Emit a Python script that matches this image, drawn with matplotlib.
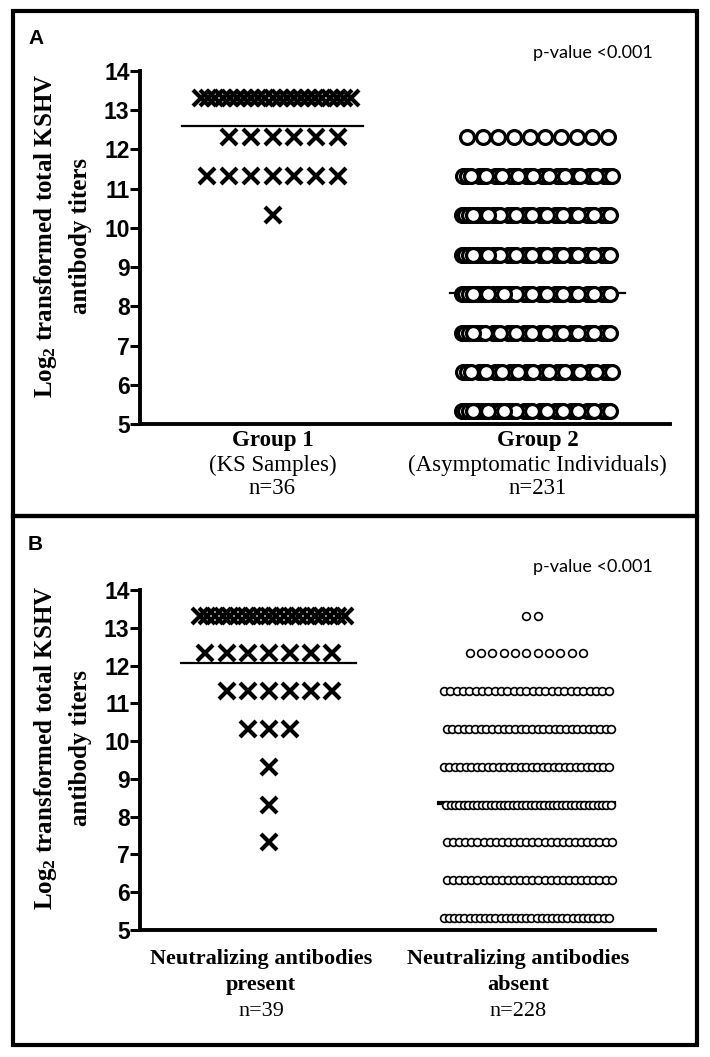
import numpy as np
import matplotlib
matplotlib.use("Agg")
import matplotlib.pyplot as plt
from matplotlib.patches import Rectangle

# ---------------- data ----------------
titer_levels = [13.32, 12.32, 11.32, 10.32, 9.32, 8.32, 7.32, 6.32, 5.32]
a_group1_counts = [22, 6, 7, 1, 0, 0, 0, 0, 0]        # n=36
a_group2_counts = [0, 10, 30, 32, 32, 33, 31, 30, 33]  # n=231
b_present_counts = [20, 7, 6, 3, 1, 1, 1, 0, 0]        # n=39
b_absent_counts = [2, 11, 27, 30, 31, 38, 28, 28, 33]  # n=228
a_means = [12.6, 8.35]
b_means = [12.07, 8.35]
a_cat_lines = [["Group 1", "(KS Samples)", "n=36"],
               ["Group 2", "(Asymptomatic Individuals)", "n=231"]]
b_cat_lines = [["Neutralizing antibodies", "present", "n=39"],
               ["Neutralizing antibodies", "absent", "n=228"]]
y_ticks = [5, 6, 7, 8, 9, 10, 11, 12, 13, 14]
p_text = "p-value <0.001"

plt.rcParams["mathtext.fontset"] = "custom"
plt.rcParams["mathtext.rm"] = "Liberation Serif:bold"
plt.rcParams["mathtext.bf"] = "Liberation Serif:bold"
plt.rcParams["mathtext.it"] = "Liberation Serif:bold"

W, H = 710, 1057
fig = plt.figure(figsize=(W / 100, H / 100), dpi=100)


def fx(px):
    return px / W


def fy(py):
    return 1 - py / H


def prism_offsets(n, step, width):
    if n == 0:
        return np.array([])
    if n > 1 and step * (n - 1) > width:
        step = width / (n - 1)
    k = np.arange(n) - (n - 1) // 2
    return k * step


def layered_offsets(n, step, cols, shift):
    if n == 0:
        return np.array([])
    ncols = min(n, cols)
    layers = int(np.ceil(n / ncols))
    idx = np.arange(n)
    j = idx % ncols
    l = idx // ncols
    return (j - (ncols - 1) / 2) * step + (l - (layers - 1) / 2) * shift


def draw_group(ax, cat, counts, kind):
    for lev, n in zip(titer_levels, counts):
        if n == 0:
            continue
        if kind == "cross":
            xs = cat + prism_offsets(n, 0.082, 0.565)
            ax.plot(xs, [lev] * n, ls="none", marker="x", ms=11, mew=3.0,
                    color="black", clip_on=False, zorder=3)
        elif kind == "bigcircle":
            xs = cat + layered_offsets(n, 0.059, 10, 0.014)
            ax.plot(xs, [lev] * n, ls="none", marker="o", ms=10, mew=2.3,
                    mfc="white", mec="black", clip_on=False, zorder=3)
        else:
            xs = cat + prism_offsets(n, 0.044, 0.64)
            ax.plot(xs, [lev] * n, ls="none", marker="o", ms=5.6, mew=1.2,
                    mfc="white", mec="black", clip_on=False, zorder=3)


def style_axes(ax):
    ax.set_xlim(0.5, 2.5)
    ax.set_ylim(5, 14)
    ax.spines["top"].set_visible(False)
    ax.spines["right"].set_visible(False)
    ax.spines["left"].set_linewidth(2.8)
    ax.spines["bottom"].set_linewidth(2.8)
    ax.set_xticks([])
    ax.set_yticks(y_ticks)
    ax.tick_params(axis="y", length=7, width=2.2, pad=0.5)
    for lab in ax.get_yticklabels():
        lab.set_fontfamily("Liberation Sans")
        lab.set_fontweight("bold")
        lab.set_fontsize(16.5)


def cat_labels(ax, cats, lines, offsets, size, dx):
    for c, ls in zip(cats, lines):
        for i, (t, off) in enumerate(zip(ls, offsets)):
            bold = (i == 0) or (i == 1 and not ls[1].startswith("("))
            ax.annotate(t, xy=(c + dx, 0), xycoords=ax.get_xaxis_transform(),
                        xytext=(0, -off * 0.72), textcoords="offset points",
                        ha="center", va="center", fontsize=size,
                        family="Liberation Serif",
                        fontweight="bold" if bold else "normal",
                        annotation_clip=False)


cats = [1, 2]

# ---------------- Panel A ----------------
axA = fig.add_axes([fx(140), fy(424), fx(670) - fx(140), (424 - 71) / H])
style_axes(axA)
draw_group(axA, 1, a_group1_counts, "cross")
draw_group(axA, 2, a_group2_counts, "bigcircle")
axA.plot([1 - 0.34, 1 + 0.34], [a_means[0]] * 2, color="black", lw=1.6, zorder=2)
axA.plot([2 - 0.33, 2 + 0.33], [a_means[1]] * 2, color="black", lw=1.6, zorder=2)
cat_labels(axA, cats, a_cat_lines, [17, 41, 65], 16.5, 0.0)

# ---------------- Panel B ----------------
axB = fig.add_axes([fx(140), fy(930), fx(655) - fx(140), (930 - 590) / H])
style_axes(axB)
draw_group(axB, 1, b_present_counts, "cross")
draw_group(axB, 2, b_absent_counts, "smallcircle")
axB.plot([1 - 0.34, 1 + 0.34], [b_means[0]] * 2, color="black", lw=1.6, zorder=2)
axB.plot([2 - 0.34, 2 + 0.34], [b_means[1]] * 2, color="black", lw=3.0, zorder=2)
cat_labels(axB, cats, b_cat_lines, [29, 55, 81], 16.0, -0.03)

# ---------------- y labels ----------------
for yc in [236, 748]:
    fig.text(fx(46), fy(yc), r"Log$_{2}$ transformed total KSHV", rotation=90,
             ha="center", va="center", fontsize=18, family="Liberation Serif",
             fontweight="bold")
    fig.text(fx(81), fy(yc), "antibody titers", rotation=90,
             ha="center", va="center", fontsize=18, family="Liberation Serif",
             fontweight="bold")

# ---------------- panel letters and p-values ----------------
fig.text(fx(28), fy(38), "A", ha="left", va="center", fontsize=15,
         family="Liberation Sans", fontweight="bold")
fig.text(fx(28), fy(545), "B", ha="left", va="center", fontsize=15,
         family="Liberation Sans", fontweight="bold")
fig.text(fx(653), fy(53), p_text, ha="right", va="center", fontsize=13, family="Lato")
fig.text(fx(653), fy(567), p_text, ha="right", va="center", fontsize=13, family="Lato")

# ---------------- frames ----------------
fig.add_artist(Rectangle((fx(13), fy(516)), fx(697) - fx(13), (516 - 11) / H,
                         transform=fig.transFigure, fill=False, lw=3, ec="black"))
fig.add_artist(Rectangle((fx(13), fy(1045)), fx(697) - fx(13), (1045 - 516) / H,
                         transform=fig.transFigure, fill=False, lw=3, ec="black"))

fig.savefig("out.png", dpi=100, facecolor="white")
